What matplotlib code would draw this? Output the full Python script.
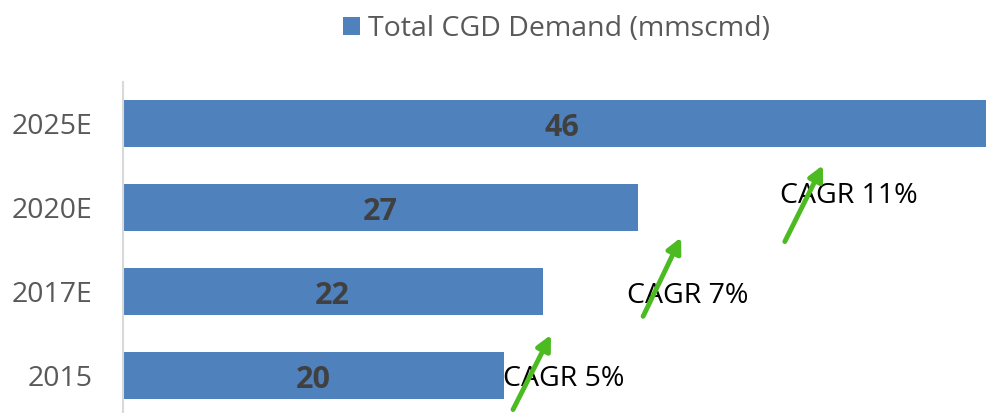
import matplotlib.pyplot as plt

years = ['2015', '2017E', '2020E', '2025E']
demand = [20, 22, 27, 46]

cagr_labels = ['CAGR 5%', 'CAGR 7%', 'CAGR 11%']
cagr_text_xy = [(19.9, -0.04), (26.4, 0.95), (34.45, 2.14)]
arrow_tail = [(20.45, -0.40), (27.27, 0.71), (34.7, 1.60)]
arrow_head = [(22.44, 0.49), (29.26, 1.65), (36.7, 2.51)]

bar_color = '#4f81bd'
green = '#4cbb22'
gray = '#595959'

plt.rcParams['font.family'] = ['Open Sans', 'DejaVu Sans']

fig = plt.figure(figsize=(9.87, 4.13), dpi=100)
ax = fig.add_axes([0.1246, -0.012, 0.8754, 0.8135])

ypos = range(len(years))
bars = ax.barh(ypos, demand, height=0.56, color=bar_color, label='Total CGD Demand (mmscmd)')
for b, v in zip(bars, demand):
    ax.text(b.get_width() / 2, b.get_y() + b.get_height() / 2 - 0.05, str(v),
            ha='center', va='center', fontsize=22, fontweight='bold', color='#404040')

ax.set_xlim(0, 45.3)
ax.set_ylim(-0.5, 3.5)
ax.set_yticks(list(ypos))
ax.set_yticklabels(years, fontsize=20.5, color=gray)
ax.tick_params(axis='y', length=0, pad=22)
ax.set_xticks([])
for s in ['top', 'right', 'bottom']:
    ax.spines[s].set_visible(False)
ax.spines['left'].set_color('#d9d9d9')
ax.spines['left'].set_linewidth(1.5)

for t, p in zip(cagr_labels, cagr_text_xy):
    ax.text(p[0], p[1], t, fontsize=20.5, color='black', ha='left', va='center')
for a, h in zip(arrow_tail, arrow_head):
    ax.annotate('', xy=h, xytext=a, annotation_clip=False,
                arrowprops=dict(arrowstyle='-|>', color=green, lw=3.5, mutation_scale=22,
                                shrinkA=0, shrinkB=0))

fig.legend(loc='upper center', bbox_to_anchor=(0.564, 1.025), frameon=False, fontsize=20.5,
           handlelength=0.6, handleheight=0.6, handletextpad=0.3, labelcolor=gray)

fig.savefig('out.png', dpi=100)
